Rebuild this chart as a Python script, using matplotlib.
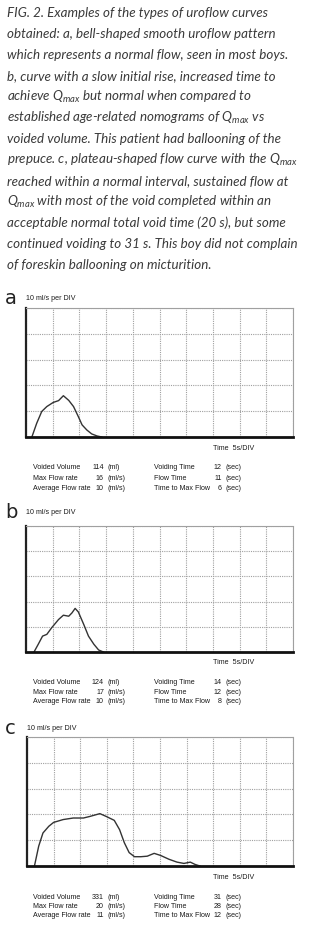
import matplotlib
matplotlib.use("Agg")
import matplotlib.pyplot as plt
from matplotlib import font_manager

# ---------------- data ----------------
caption_lines = [
    "FIG. 2. Examples of the types of uroflow curves",
    "obtained: a, bell-shaped smooth uroflow pattern",
    "which represents a normal flow, seen in most boys.",
    "b, curve with a slow initial rise, increased time to",
    "achieve $Q_{max}$ but normal when compared to",
    "established age-related nomograms of $Q_{max}$ vs",
    "voided volume. This patient had ballooning of the",
    "prepuce. c, plateau-shaped flow curve with the $Q_{max}$",
    "reached within a normal interval, sustained flow at",
    "$Q_{max}$ with most of the void completed within an",
    "acceptable normal total void time (20 s), but some",
    "continued voiding to 31 s. This boy did not complain",
    "of foreskin ballooning on micturition.",
]

panel_letters = ["a", "b", "c"]

time_a = [1.1, 2.0, 2.95, 3.9, 5.1, 6.1, 7.0, 8.0, 8.9, 9.8, 10.5, 11.4, 12.3, 13.3, 14.2]
flow_a = [0.0, 5.3, 9.9, 11.8, 13.4, 14.1, 16.0, 14.2, 11.8, 7.9, 4.7, 2.7, 1.2, 0.4, 0.0]

time_b = [1.5, 2.3, 3.1, 3.9, 4.8, 6.1, 7.0, 8.0, 8.6, 9.2, 9.8, 10.8, 11.7, 12.7, 13.6, 14.5]
flow_b = [0.0, 3.1, 6.3, 7.0, 9.6, 12.9, 14.6, 14.2, 15.5, 17.3, 15.9, 11.0, 6.3, 3.1, 0.8, 0.0]

time_c = [1.4, 2.2, 3.0, 4.1, 5.0, 6.8, 8.7, 10.6, 11.8, 13.7, 14.9, 16.4, 17.4, 18.3, 19.2,
          20.2, 21.4, 22.6, 23.9, 25.1, 26.7, 28.2, 29.5, 30.7, 31.6, 32.5]
flow_c = [0.0, 7.7, 12.8, 15.4, 16.9, 18.0, 18.6, 18.6, 19.2, 20.3, 19.2, 17.7, 14.1, 9.0, 5.2,
          3.6, 3.6, 3.8, 4.9, 4.1, 2.6, 1.5, 1.0, 1.5, 0.6, 0.0]

y_label = ["10 ml/s per DIV", "10 ml/s per DIV", "10 ml/s per DIV"]
x_label = "Time  5s/DIV"

stat_names_left = ["Voided Volume", "Max Flow rate", "Average Flow rate"]
stat_names_right = ["Voiding Time", "Flow Time", "Time to Max Flow"]
stats_a_left = [("114", "(ml)"), ("16", "(ml/s)"), ("10", "(ml/s)")]
stats_a_right = [("12", "(sec)"), ("11", "(sec)"), ("6", "(sec)")]
stats_b_left = [("124", "(ml)"), ("17", "(ml/s)"), ("10", "(ml/s)")]
stats_b_right = [("14", "(sec)"), ("12", "(sec)"), ("8", "(sec)")]
stats_c_left = [("331", "(ml)"), ("20", "(ml/s)"), ("11", "(ml/s)")]
stats_c_right = [("31", "(sec)"), ("28", "(sec)"), ("12", "(sec)")]

# ---------------- fonts ----------------
avail = {f.name for f in font_manager.fontManager.ttflist}
def pick(names):
    for n in names:
        if n in avail:
            return n
    return "DejaVu Sans"

cap_font = pick(["Lato", "Noto Sans"])
small_font = pick(["Liberation Sans", "DejaVu Sans"])
plt.rcParams["mathtext.fontset"] = "custom"
plt.rcParams["mathtext.it"] = cap_font + ":italic"
plt.rcParams["mathtext.rm"] = cap_font

W, H = 312, 938
fig = plt.figure(figsize=(W / 100, H / 100), dpi=100)
fig.patch.set_facecolor("white")

def fy(y):
    return 1 - y / H

# caption
for i, line in enumerate(caption_lines):
    fig.text(7 / W, fy(13 + 21 * i), line, fontsize=9.6, style="italic",
             family=[cap_font, "DejaVu Sans"], color="#3a3a3a", va="center", ha="left")

panels = [
    dict(box=(26, 293, 308, 437), t=time_a, f=flow_a, sl=stats_a_left, sr=stats_a_right,
         rows=(467, 478, 488), letter_y=298),
    dict(box=(26, 293, 526, 652), t=time_b, f=flow_b, sl=stats_b_left, sr=stats_b_right,
         rows=(683, 692, 701), letter_y=513),
    dict(box=(27, 293, 737, 866), t=time_c, f=flow_c, sl=stats_c_left, sr=stats_c_right,
         rows=(897, 906, 915), letter_y=728),
]

sfont = dict(family=[small_font, "DejaVu Sans"], fontsize=5.1, color="#1a1a1a",
             va="center")

for k, p in enumerate(panels):
    x0, x1, y0, y1 = p["box"]
    ax = fig.add_axes([x0 / W, fy(y1), (x1 - x0) / W, (y1 - y0) / H])
    ax.set_xlim(0, 50)
    ax.set_ylim(0, 50)
    ax.set_xticks(range(0, 51, 5))
    ax.set_yticks(range(0, 51, 10))
    ax.grid(True, color="#a0a0a0", linestyle=(0, (1, 1)), linewidth=0.8)
    ax.tick_params(length=0, labelbottom=False, labelleft=False)
    for s in ["top", "right"]:
        ax.spines[s].set_color("#a0a0a0")
        ax.spines[s].set_linestyle((0, (1, 1)))
        ax.spines[s].set_linewidth(0.8)
    ax.spines["left"].set_linewidth(1.6)
    ax.spines["left"].set_color("#222222")
    ax.spines["bottom"].set_linewidth(2.0)
    ax.spines["bottom"].set_color("#111111")
    ax.plot(p["t"], p["f"], color="#333333", linewidth=1.0)

    fig.text(5 / W, fy(p["letter_y"]), panel_letters[k], fontsize=14,
             family="DejaVu Sans", color="#222222", va="center", ha="left")
    fig.text(x0 / W, fy(p["letter_y"]), y_label[k], **sfont, ha="left")
    fig.text(213 / W, fy(y1 + 11), x_label, **sfont, ha="left")

    for r, yy in enumerate(p["rows"]):
        fig.text(33 / W, fy(yy), stat_names_left[r], **sfont, ha="left")
        fig.text(104 / W, fy(yy), p["sl"][r][0], **sfont, ha="right")
        fig.text(107 / W, fy(yy), p["sl"][r][1], **sfont, ha="left")
        fig.text(154 / W, fy(yy), stat_names_right[r], **sfont, ha="left")
        fig.text(222 / W, fy(yy), p["sr"][r][0], **sfont, ha="right")
        fig.text(225 / W, fy(yy), p["sr"][r][1], **sfont, ha="left")

fig.savefig("out.png", dpi=100, facecolor="white")
